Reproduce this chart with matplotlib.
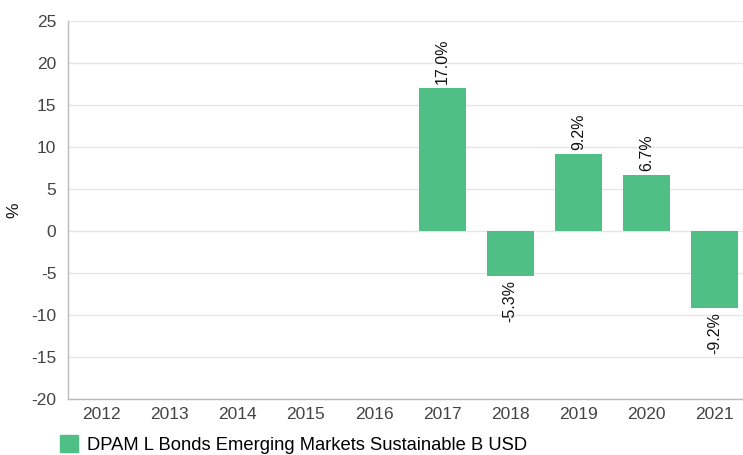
import matplotlib
matplotlib.use("Agg")
import matplotlib.pyplot as plt
from matplotlib.patches import Patch

years = ["2012", "2013", "2014", "2015", "2016", "2017", "2018", "2019", "2020", "2021"]
values = [None, None, None, None, None, 17.0, -5.3, 9.2, 6.7, -9.2]
series_name = "DPAM L Bonds Emerging Markets Sustainable B USD"
color = "#50bf86"

plt.rcParams['font.family'] = ['Liberation Sans', 'DejaVu Sans']
plt.rcParams['axes.unicode_minus'] = False
fig = plt.figure(figsize=(7.43, 4.55), dpi=100)
W, H = 743, 455
ax = fig.add_axes([67.5 / W, 1 - 399 / H, (748.6 - 67.5) / W, (399 - 21) / H])

x = list(range(len(years)))
for i, v in enumerate(values):
    if v is None:
        continue
    ax.bar(i, v, width=0.69, color=color, zorder=3)
    if v >= 0:
        ax.annotate(f"{v:.1f}%", (i, v), xytext=(0, 3), textcoords="offset points",
                    rotation=90, ha="center", va="bottom", fontsize=11.5, color="#111111")
    else:
        ax.annotate(f"{v:.1f}%", (i, v), xytext=(0, -3), textcoords="offset points",
                    rotation=90, ha="center", va="top", fontsize=11.5, color="#111111")

ax.set_xlim(-0.5, len(years) - 0.5)
ax.set_ylim(-20, 25)
ax.set_yticks(range(-20, 26, 5))
ax.set_xticks(x)
ax.set_xticklabels(years)
ax.grid(axis="y", color="#e6e6e6", linewidth=1, zorder=0)
ax.tick_params(axis="both", length=0, labelsize=12.5, colors="#444444")
ax.tick_params(axis="x", pad=6)
ax.tick_params(axis="y", pad=8)
for s in ["top", "right"]:
    ax.spines[s].set_visible(False)
for s in ["left", "bottom"]:
    ax.spines[s].set_color("#bbbbbb")
    ax.spines[s].set_linewidth(1)
fig.text(14 / W, 1 - 210 / H, "%", rotation=90, ha="center", va="center",
         fontsize=12.5, color="#111111")

fig.legend(handles=[Patch(facecolor=color, edgecolor=color)], labels=[series_name],
           loc="lower left", bbox_to_anchor=(43 / W, -0.034), frameon=False,
           fontsize=13.2, handlelength=1.0, handleheight=1.0, handletextpad=0.5)

fig.savefig("out.png", dpi=100)
